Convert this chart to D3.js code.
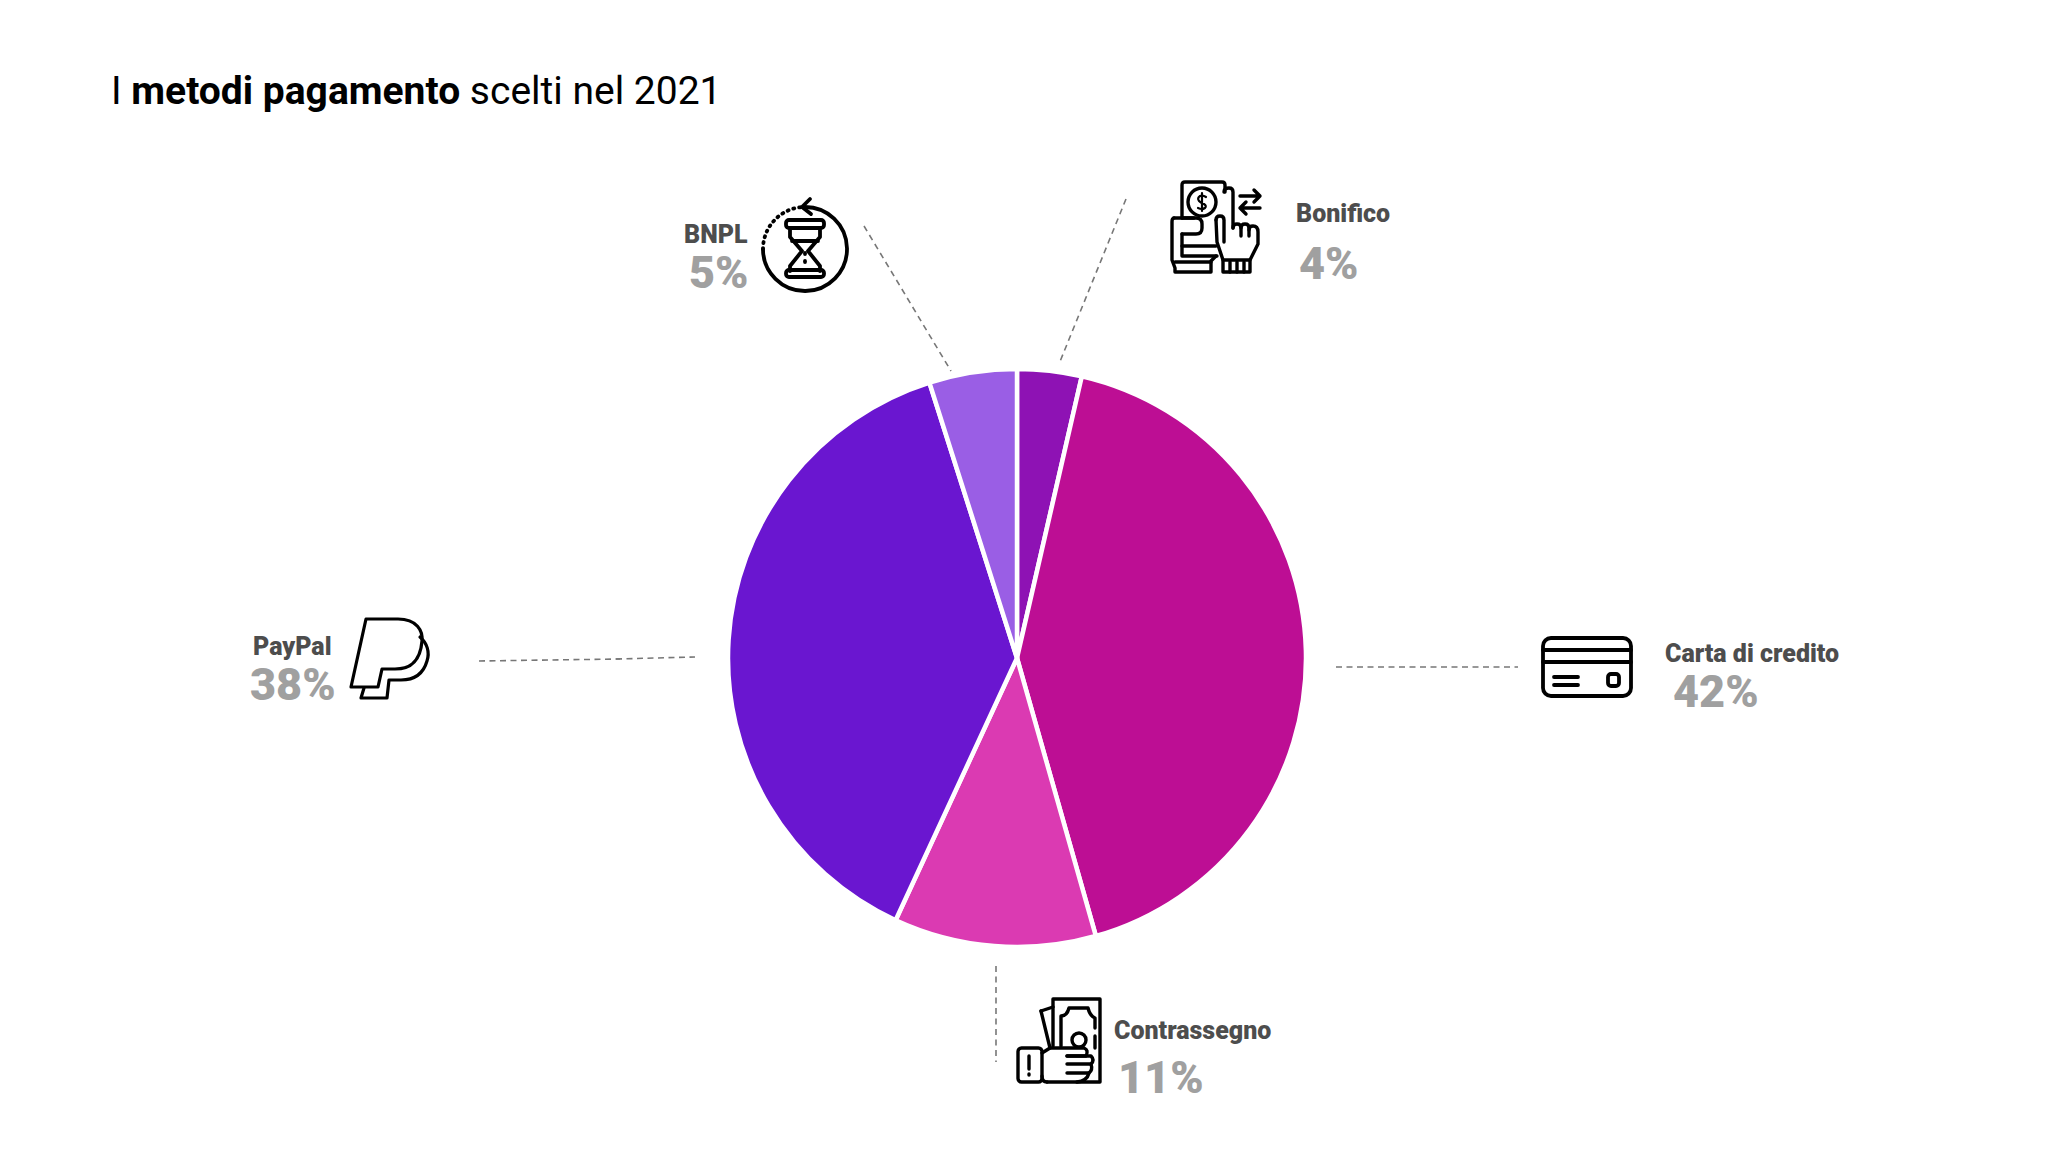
<!DOCTYPE html>
<html>
<head>
<meta charset="utf-8">
<script src="https://d3js.org/d3.v7.min.js"></script>
<style>
  html, body { margin: 0; background: #fff; }
  text { font-family: Roboto, sans-serif; }
</style>
</head>
<body>
<div id="canvas"></div>
<script>
const metodi = ['Bonifico', 'Carta di credito', 'Contrassegno', 'PayPal', 'BNPL'];
const quote = [3.6, 42, 11.3, 38.2, 4.9];
const etichette = ['4%', '42%', '11%', '38%', '5%'];
const colori = ['#8e12b4', '#bd0e94', '#db3ab2', '#6a16d0', '#9a5ee5'];

const W = 2059, H = 1155;
const cx = 1017, cy = 658, R = 289;

const Svg = d3.select('#canvas').append('svg')
  .attr('width', W)
  .attr('height', H)
  .style('display', 'block');

// title
const title = Svg.append('text')
  .attr('x', 111)
  .attr('y', 104)
  .attr('font-size', 39)
  .attr('fill', '#000');
title.append('tspan').text('I ');
title.append('tspan').attr('font-weight', 700).text('metodi pagamento');
title.append('tspan').text(' scelti nel 2021');

// pie
const pie = d3.pie().sort(null).value(d => d);
const arc = d3.arc().innerRadius(0).outerRadius(R);

Svg.append('g')
  .attr('transform', `translate(${cx}, ${cy})`)
  .selectAll('path')
  .data(pie(quote))
  .enter()
  .append('path')
  .attr('d', arc)
  .attr('fill', (d, i) => colori[i])
  .attr('stroke', '#fff')
  .attr('stroke-width', 4.5);

// annotation layout, same order as metodi
const posNome = [[1296, 222], [1665, 662], [1114, 1039], [253, 655], [684, 243]];
const posQuota = [[1299, 279], [1673, 707], [1118, 1093], [250, 700], [689, 288]];
const guide = [
  [[1126, 199], [1059, 364]],
  [[1336, 667], [1518, 667]],
  [[996, 966], [996, 1062]],
  [[479, 661], [620, 659]],
  [[616, 659], [695, 657]],
  [[864, 226], [951, 371]]
];

Svg.append('g').selectAll('line')
  .data(guide)
  .enter()
  .append('line')
  .attr('x1', d => d[0][0])
  .attr('y1', d => d[0][1])
  .attr('x2', d => d[1][0])
  .attr('y2', d => d[1][1])
  .attr('stroke', '#777')
  .attr('stroke-width', 1.6)
  .attr('stroke-dasharray', '6 4.5');

metodi.forEach((m, i) => {
  Svg.append('text')
    .attr('x', posNome[i][0])
    .attr('y', posNome[i][1])
    .attr('font-size', 25)
    .attr('font-weight', 900)
    .attr('fill', '#4d4d4d')
    .text(m);
  Svg.append('text')
    .attr('x', posQuota[i][0])
    .attr('y', posQuota[i][1])
    .attr('font-size', 45)
    .attr('font-weight', 900)
    .attr('fill', '#a0a0a0')
    .text(etichette[i]);
});

// icons
const icon = (x, y, sw) => Svg.append('g')
  .attr('transform', `translate(${x}, ${y})`)
  .attr('fill', 'none')
  .attr('stroke', '#000')
  .attr('stroke-width', sw)
  .attr('stroke-linejoin', 'round')
  .attr('stroke-linecap', 'round');
const paths = (g, list) => list.forEach(d => g.append('path').attr('d', d));

// card
const card = icon(1550 - 7, 638, 3.8);
card.append('rect').attr('width', 88).attr('height', 58).attr('rx', 8);
paths(card, ['M0,12H88', 'M0,24H88', 'M11,39H35', 'M11,47H35']);
card.append('rect').attr('x', 65).attr('y', 36).attr('width', 11).attr('height', 12).attr('rx', 3);

// paypal
const pp = icon(351, 619, 3.2);
paths(pp, [
  'M15,0H47C66,0 72,12 71,22C69,46 56,50 44,50H31L27,68H0Z',
  'M69,18C76,24 79,33 76,42C72,56 62,61 50,61H38L36,79H10L13,69'
]);

// hourglass
const bnpl = icon(805, 249, 3.8);
paths(bnpl, [
  'M-42,0A42,42 0 1 0 -1,-42',
  'M5,-50L-3,-42L6,-35',
  'M-15,-19V-12L-3,2L-15,17V22',
  'M15,-19V-12L3,2L15,17V22',
  'M-13,-8H13',
  'M0,4V5', 'M0,12V13'
]);
bnpl.append('path')
  .attr('d', 'M-42,0A42,42 0 0 1 -1,-42')
  .attr('stroke-dasharray', '1 5');
bnpl.append('rect').attr('x', -19).attr('y', -29).attr('width', 38).attr('height', 8).attr('rx', 3);
bnpl.append('rect').attr('x', -19).attr('y', 21).attr('width', 38).attr('height', 7).attr('rx', 3);

// bonifico
const bon = icon(1172, 182, 3.4);
paths(bon, [
  'M10,36V3Q10,0 13,0H50Q53,0 53,3V10',
  'M10,36H24Q30,36 30,42V46Q30,52 24,52H10',
  'M2,36H22',
  'M2,36Q0,36 0,40V78L3,86V90H39V79L44,74',
  'M10,52V74H45',
  'M10,64H44',
  'M3,80H39',
  'M44,38Q44,34 48,34Q52,34 52,38V60',
  'M52,10Q52,6 57,6Q61,6 61,10V46',
  'M61,46Q61,42 65,42Q69,42 69,46V54',
  'M69,46Q69,42 73,42Q77,42 77,46V54',
  'M77,48Q77,44 81,44Q86,44 86,50V62L78,78V90H51V78L45,60L44,38',
  'M51,78H78',
  'M58,80V90', 'M65,80V90', 'M72,80V90',
  'M68,14H88M82,8L88,14L82,20',
  'M88,26H68M74,20L68,26L74,32'
]);
bon.append('circle').attr('cx', 30).attr('cy', 20).attr('r', 14);
bon.append('path')
  .attr('stroke-width', 2.2)
  .attr('d', 'M34,15Q31,13 28,14Q25,16 27,19Q29,21 32,22Q35,24 33,26Q30,28 26,26M30,11V29');

// contrassegno
const cash = icon(1017, 998, 3.4);
cash.append('rect').attr('x', 1).attr('y', 50).attr('width', 24).attr('height', 34).attr('rx', 3.5);
cash.append('circle').attr('cx', 62).attr('cy', 42).attr('r', 7);
paths(cash, [
  'M12,58V71', 'M12,76V77',
  'M24,13L36,9', 'M24,13L33,50',
  'M36,48V1H83V84H30',
  'M44,48V18Q50,18 52,10H71Q73,18 78,20V30M78,38V50',
  'M25,55L33,50H67Q72,52 69,58H50',
  'M50,58H74Q78,62 74,66H50',
  'M74,66Q76,72 72,75H50',
  'M72,75Q70,83 60,84',
  'M30,84Q25,84 25,78'
]);
</script>
</body>
</html>
